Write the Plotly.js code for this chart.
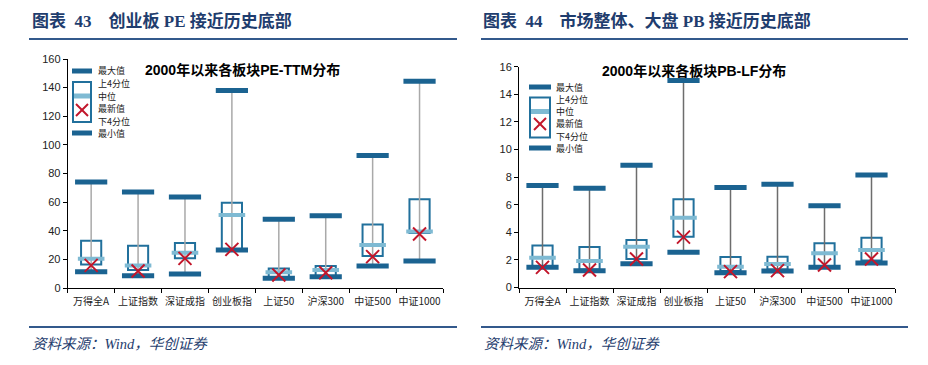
<!DOCTYPE html>
<html>
<head>
<meta charset="utf-8">
<script src="https://cdn.plot.ly/plotly-3.0.1.min.js"></script>
<style>html,body{margin:0;padding:0;background:#fff;}#chart{width:928px;height:365px;}</style>
</head>
<body>
<div id="chart"></div>
<script>
// ---- data ----
var categories = ['万得全A','上证指数','深证成指','创业板指','上证50','沪深300','中证500','中证1000'];

var peMax  = [74, 67, 63.5, 138, 48, 50.5, 92.5, 144.5];
var peQ3   = [33, 29.5, 31.5, 59.5, 13.7, 15.4, 44.3, 62];
var peMed  = [20.5, 15.8, 24.7, 51, 11, 12.6, 30, 39.5];
var peQ1   = [16.5, 12.6, 20.7, 27, 7.5, 8.4, 22.4, 38.5];
var peMin  = [11.4, 8.6, 9.8, 26.5, 6.8, 7.9, 15.4, 18.9];
var peLast = [15.8, 11.9, 20.7, 27, 9.1, 10.7, 21.9, 37.7];

var pbMax  = [7.4, 7.2, 8.85, 15.0, 7.25, 7.48, 5.93, 8.15];
var pbQ3   = [3.05, 2.93, 3.44, 6.39, 2.21, 2.23, 3.2, 3.6];
var pbMed  = [2.16, 1.92, 2.96, 5.06, 1.51, 1.7, 2.48, 2.72];
var pbQ1   = [1.5, 1.3, 2.06, 3.68, 1.2, 1.3, 1.55, 1.95];
var pbMin  = [1.46, 1.22, 1.72, 2.55, 1.07, 1.2, 1.46, 1.78];
var pbLast = [1.46, 1.27, 2.07, 3.65, 1.15, 1.22, 1.63, 2.07];

var legendLabels = ['最大值','上4分位','中位','最新值','下4分位','最小值'];
var headingLeft = '图表  43    创业板 PE 接近历史底部';
var headingRight = '图表  44    市场整体、大盘 PB 接近历史底部';
var titleLeft = '2000年以来各板块PE-TTM分布';
var titleRight = '2000年以来各板块PB-LF分布';
var sourceText = '资料来源：Wind，华创证券';

// ---- style ----
var W = 928, H = 365;
var DARK = '#1b6391', BOXC = '#21709c', MEDC = '#7fbad3', REDC = '#c2162b';
var NAVY = '#1f3d6e', RULE = '#33598c';
var CJK = '"Noto Sans CJK SC", sans-serif';
var SANS = '"Liberation Sans", Arial, "Noto Sans CJK SC", sans-serif';
var SERIF = '"Liberation Serif", "Times New Roman", "Noto Sans CJK SC", serif';
function px(x){return x/W;}
function py(y){return 1 - y/H;}

function buildTraces(maxA, q3A, medA, q1A, minA, lastA, xa, ya, whiskerColor){
  var wx = [], wy = [];
  for (var i=0;i<categories.length;i++){ wx.push(categories[i],categories[i],null); wy.push(minA[i],maxA[i],null); }
  var h = q3A.map(function(v,i){return v - q1A[i];});
  return [
    {type:'bar', x:categories, y:h, base:q1A, width:0.43, xaxis:xa, yaxis:ya,
     marker:{color:'rgba(255,255,255,1)', line:{color:BOXC, width:2}}, hoverinfo:'skip', showlegend:false},
    {type:'scatter', mode:'lines', x:wx, y:wy, xaxis:xa, yaxis:ya,
     line:{color:whiskerColor, width:1.5}, hoverinfo:'skip', showlegend:false},
    {type:'scatter', mode:'markers', x:categories, y:maxA, xaxis:xa, yaxis:ya,
     marker:{symbol:'line-ew', size:23, line:{color:DARK, width:5}}, showlegend:false},
    {type:'scatter', mode:'markers', x:categories, y:minA, xaxis:xa, yaxis:ya,
     marker:{symbol:'line-ew', size:23, line:{color:DARK, width:5}}, showlegend:false},
    {type:'scatter', mode:'markers', x:categories, y:medA, xaxis:xa, yaxis:ya,
     marker:{symbol:'line-ew', size:19, line:{color:MEDC, width:4}}, showlegend:false},
    {type:'scatter', mode:'markers', x:categories, y:lastA, xaxis:xa, yaxis:ya,
     marker:{symbol:'x-thin', size:13, color:REDC, line:{color:REDC, width:2}}, showlegend:false}
  ];
}

var data = [].concat(
  buildTraces(peMax, peQ3, peMed, peQ1, peMin, peLast, 'x', 'y', '#a9a9a9'),
  buildTraces(pbMax, pbQ3, pbMed, pbQ1, pbMin, pbLast, 'x2', 'y2', '#6d6d6d')
);

function xAxis(d){
  return {domain:d, type:'category', range:[-0.5,7.5], showline:true, linecolor:'#000', linewidth:1,
    ticks:'outside', tickson:'boundaries', ticklen:4, tickcolor:'#000', showgrid:false, zeroline:false,
    tickangle:0, automargin:false, ticklabelstandoff:4,
    tickfont:{family:CJK, size:10, color:'#222'}, fixedrange:true};
}
function yAxis(d, r, dt, anchor){
  return {domain:d, range:r, dtick:dt, anchor:anchor, showline:true, linecolor:'#000', linewidth:1,
    ticks:'outside', ticklen:4, tickcolor:'#000', showgrid:false, zeroline:false,
    tickfont:{family:SANS, size:11, color:'#222'}, fixedrange:true};
}

var shapes = [], annotations = [];
function rule(x0,x1,y){ shapes.push({type:'line', xref:'paper', yref:'paper', x0:px(x0), x1:px(x1), y0:py(y), y1:py(y), line:{color:RULE, width:2}}); }
rule(29,457,39); rule(481,908,39); rule(29,457,327); rule(481,908,327);

function text(t,x,y,opts){
  var a = {text:t, xref:'paper', yref:'paper', x:px(x), y:py(y), showarrow:false,
    xanchor:opts.xanchor||'left', yanchor:'middle', font:opts.font, borderpad:0};
  annotations.push(a);
}
text('<b>'+headingLeft+'</b>', 31, 21, {font:{family:SERIF, size:17, color:NAVY}});
text('<b>'+headingRight+'</b>', 482, 21, {font:{family:SERIF, size:17, color:NAVY}});
text('<i>'+sourceText+'</i>', 31, 344, {font:{family:SERIF, size:14.5, color:NAVY}});
text('<i>'+sourceText+'</i>', 483, 344, {font:{family:SERIF, size:14.5, color:NAVY}});
text('<b>'+titleLeft+'</b>', 242, 70, {xanchor:'center', font:{family:SANS, size:14, color:'#000'}});
text('<b>'+titleRight+'</b>', 694, 71, {xanchor:'center', font:{family:SANS, size:14, color:'#000'}});

function legend(bx0, bx1, yMax, yBoxTop, yBoxBot, yMed, yX, yMin, labX, labYs){
  function rect(x0,x1,y0,y1,fill,line,lw){ shapes.push({type:'rect', xref:'paper', yref:'paper', x0:px(x0), x1:px(x1), y0:py(y0), y1:py(y1), fillcolor:fill, line:{color:line, width:lw}}); }
  function ln(x0,y0,x1,y1,c,w){ shapes.push({type:'line', xref:'paper', yref:'paper', x0:px(x0), x1:px(x1), y0:py(y0), y1:py(y1), line:{color:c, width:w}}); }
  rect(bx0-1, bx1+1, yMax-2.5, yMax+2.5, DARK, DARK, 0);
  rect(bx0, bx1, yBoxTop, yBoxBot, '#fff', BOXC, 2);
  rect(bx0+1, bx1-1, yMed-2.5, yMed+2.5, MEDC, MEDC, 0);
  var cx = (bx0+bx1)/2;
  ln(cx-6, yX-6, cx+6, yX+6, REDC, 2);
  ln(cx-6, yX+6, cx+6, yX-6, REDC, 2);
  rect(bx0-1, bx1+1, yMin-2.5, yMin+2.5, DARK, DARK, 0);
  for (var i=0;i<legendLabels.length;i++){
    text(legendLabels[i], labX, labYs[i], {font:{family:CJK, size:9, color:'#222'}});
  }
}
legend(73, 91, 71, 82, 122, 96, 110, 133, 97, [71, 83.5, 96, 108.5, 121, 133.5]);
legend(530, 550, 87, 97.5, 137.5, 111.5, 124, 148, 555, [87, 99.5, 111.5, 124, 136, 148]);

var layout = {
  width:W, height:H, margin:{l:0,r:0,t:0,b:0}, paper_bgcolor:'#fff', plot_bgcolor:'rgba(0,0,0,0)',
  showlegend:false, bargap:0,
  xaxis: xAxis([px(67.7), px(443)]),
  yaxis: yAxis([py(288), py(59)], [0,160], 20, 'x'),
  xaxis2: Object.assign(xAxis([px(519), px(895)]), {anchor:'y2'}),
  yaxis2: yAxis([py(287.5), py(66.7)], [0,16], 2, 'x2'),
  shapes:shapes, annotations:annotations
};
layout.xaxis.anchor = 'y';

Plotly.newPlot('chart', data, layout, {staticPlot:true, displayModeBar:false});
</script>
</body>
</html>
